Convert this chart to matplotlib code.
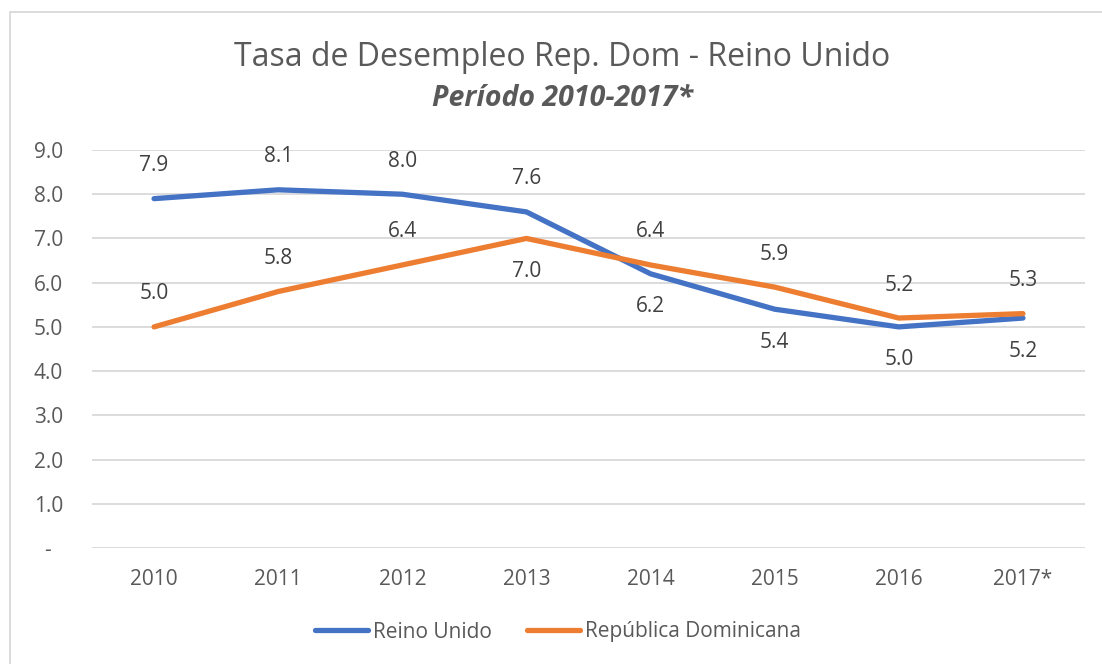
import matplotlib.pyplot as plt
from matplotlib.patches import Rectangle

years = ["2010", "2011", "2012", "2013", "2014", "2015", "2016", "2017*"]
reino_unido = [7.9, 8.1, 8.0, 7.6, 6.2, 5.4, 5.0, 5.2]
rep_dom = [5.0, 5.8, 6.4, 7.0, 6.4, 5.9, 5.2, 5.3]
# label above (+1) or below (-1) the point
ru_pos = [1, 1, 1, 1, -1, -1, -1, -1]
rd_pos = [1, 1, 1, -1, 1, 1, 1, 1]

plt.rcParams['font.family'] = ['Open Sans', 'DejaVu Sans']
txt = '#595959'
blue = '#4472C4'
orange = '#ED7D31'

fig = plt.figure(figsize=(11.02, 6.64), dpi=100)
ax = fig.add_axes([92 / 1102, 1 - 548 / 664, (1085 - 92) / 1102, (548 - 150) / 664])

x = list(range(len(years)))
ax.plot(x, reino_unido, color=blue, lw=3.8, solid_capstyle='round', label='Reino Unido')
ax.plot(x, rep_dom, color=orange, lw=3.8, solid_capstyle='round', label='República Dominicana')

for i in x:
    ax.annotate(f"{reino_unido[i]:.1f}", (i, reino_unido[i]), xytext=(0, 33 * ru_pos[i]),
                textcoords='offset pixels', ha='center', va='center', fontsize=15, color='#404040')
    ax.annotate(f"{rep_dom[i]:.1f}", (i, rep_dom[i]), xytext=(0, 33 * rd_pos[i]),
                textcoords='offset pixels', ha='center', va='center', fontsize=15, color='#404040')

ax.set_xlim(-0.5, len(years) - 0.5)
ax.set_ylim(0, 9)
ax.set_yticks(range(10))
ax.set_yticklabels(['-  '] + [f"{v:.1f}" for v in range(1, 10)])
ax.set_xticks(x)
ax.set_xticklabels(years)
ax.grid(axis='y', color='#D9D9D9', lw=1.3)
ax.set_axisbelow(True)
for s in ax.spines.values():
    s.set_visible(False)
ax.tick_params(length=0, labelsize=15, colors=txt)
ax.tick_params(axis='x', pad=15)
ax.tick_params(axis='y', pad=21)

fig.text(562 / 1102, 1 - 58 / 664, "Tasa de Desempleo Rep. Dom - Reino Unido", ha='center', va='center',
         fontsize=23, color=txt)
fig.text(563 / 1102, 1 - 98 / 664, "Período 2010-2017*", ha='center', va='center',
         fontsize=20.5, color=txt, fontweight='bold', fontstyle='italic')

ax.legend(loc='center', bbox_to_anchor=(558 / 1102, 1 - 632 / 664), bbox_transform=fig.transFigure,
          ncol=2, frameon=False, fontsize=15, labelcolor=txt, handlelength=2.55, handletextpad=0.25,
          columnspacing=1.7)

fig.patches.append(Rectangle((10 / 1102, -0.01), 1.1, 1 - 12 / 664 + 0.01, transform=fig.transFigure,
                             fill=False, edgecolor='#D9D9D9', lw=1.3))

fig.savefig('out.png', dpi=100)
